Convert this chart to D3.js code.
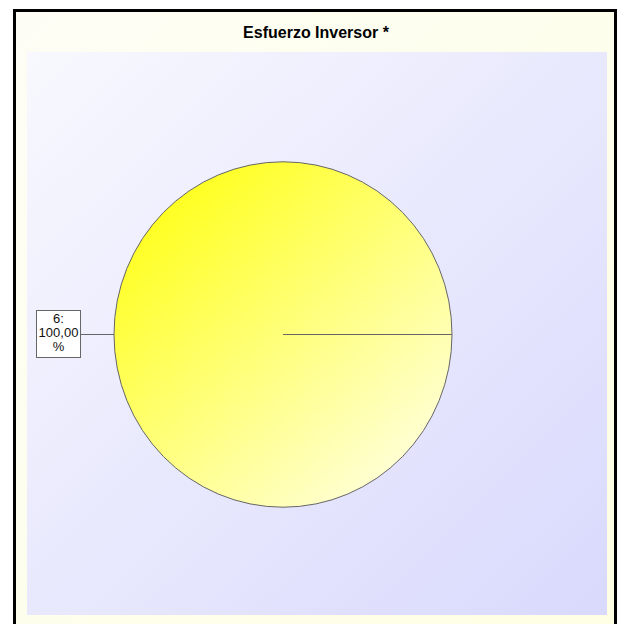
<!DOCTYPE html>
<html>
<script type="text/javascript" src="https://cdn.jsdelivr.net/npm/d3@7"></script>
<style>
body { margin: 0; background: white; overflow: hidden; }
text { font-family: Arial, "Liberation Sans", sans-serif; }
</style>
<body>
<svg width="618" height="624"></svg>
<script>
var title = "Esfuerzo Inversor *";
var categories = ["6"];
var values = [100];

var svg = d3.select("svg");
var defs = svg.append("defs");

var bg = defs.append("linearGradient").attr("id", "bg")
  .attr("x1", "0%").attr("y1", "0%").attr("x2", "100%").attr("y2", "100%");
bg.append("stop").attr("offset", "0%").attr("stop-color", "#fdfdf5");
bg.append("stop").attr("offset", "100%").attr("stop-color", "#ffffe4");

var plotBg = defs.append("linearGradient").attr("id", "plotbg")
  .attr("x1", "0%").attr("y1", "0%").attr("x2", "100%").attr("y2", "100%");
plotBg.append("stop").attr("offset", "0%").attr("stop-color", "#f8f8fe");
plotBg.append("stop").attr("offset", "100%").attr("stop-color", "#d9d9fd");

var pieFill = defs.append("linearGradient").attr("id", "piefill")
  .attr("x1", "15%").attr("y1", "10%").attr("x2", "85%").attr("y2", "90%");
pieFill.append("stop").attr("offset", "0%").attr("stop-color", "#ffff1e");
pieFill.append("stop").attr("offset", "100%").attr("stop-color", "#ffffd6");

// frame
svg.append("rect")
  .attr("x", 14.5).attr("y", 10.5).attr("width", 601).attr("height", 630)
  .attr("fill", "url(#bg)").attr("stroke", "black").attr("stroke-width", 3);

svg.append("text")
  .attr("x", 316).attr("y", 38)
  .attr("text-anchor", "middle")
  .attr("font-size", 16).attr("font-weight", "bold")
  .text(title);

// plot area
svg.append("rect")
  .attr("x", 27).attr("y", 52).attr("width", 580).attr("height", 563)
  .attr("fill", "url(#plotbg)");

var cx = 283, cy = 334.5, r = 169;
var pie = d3.pie().sort(null).startAngle(Math.PI / 2).endAngle(Math.PI / 2 + 2 * Math.PI);
var arcs = pie(values);
var arc = d3.arc().innerRadius(0).outerRadius(r);

var g = svg.append("g").attr("transform", "translate(" + cx + "," + cy + ") scale(1,1.022)");
g.selectAll("path")
  .data(arcs)
  .enter()
  .append("path")
  .attr("d", arc)
  .attr("fill", "url(#piefill)")
  .attr("stroke", "#666")
  .attr("stroke-width", 1)
  .attr("vector-effect", "non-scaling-stroke");

// slice edge
g.selectAll("line.sep")
  .data(arcs)
  .enter()
  .append("line")
  .attr("class", "sep")
  .attr("x1", 0).attr("y1", 0)
  .attr("x2", function(d) { return r * Math.sin(d.startAngle); })
  .attr("y2", function(d) { return -r * Math.cos(d.startAngle); })
  .attr("stroke", "#666")
  .attr("vector-effect", "non-scaling-stroke");

// labels
var total = d3.sum(values);
var fmt = function(v) { return d3.format(".2f")(v).replace(".", ","); };
var boxW = 44, boxH = 47, boxX = 36, boxY = 310.5;
svg.append("line")
  .attr("x1", boxX + boxW).attr("y1", cy).attr("x2", cx - r).attr("y2", cy)
  .attr("stroke", "#666");
var lab = svg.append("g");
lab.append("rect")
  .attr("x", boxX + 0.5).attr("y", boxY).attr("width", boxW).attr("height", boxH)
  .attr("fill", "white").attr("stroke", "#666");
var lines = [categories[0] + ":", fmt(values[0] / total * 100), "%"];
lab.selectAll("text")
  .data(lines)
  .enter()
  .append("text")
  .attr("x", boxX + boxW / 2 + 0.5)
  .attr("y", function(d, i) { return boxY + 12 + i * 14; })
  .attr("text-anchor", "middle")
  .attr("font-size", 13)
  .attr("fill", "#111")
  .text(function(d) { return d; });
</script>
</body>
</html>
